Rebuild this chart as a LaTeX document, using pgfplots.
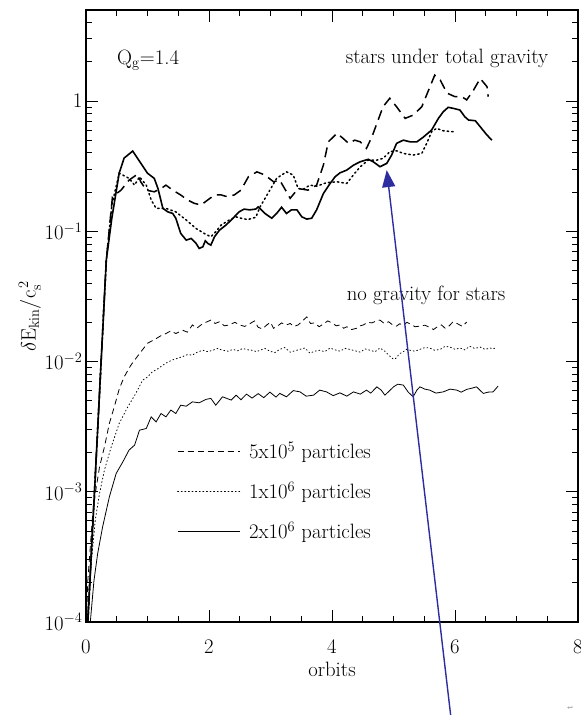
\documentclass[border=0pt]{standalone}
\usepackage{pgfplots}
\pgfplotsset{compat=1.18}
\usetikzlibrary{arrows.meta}
\definecolor{arrowblue}{RGB}{45,45,160}
\newcommand{\fs}{\fontsize{20.74}{24}\selectfont}
\newcommand{\ft}{\fontsize{20.74}{24}\selectfont}
\begin{document}
\begin{tikzpicture}
\begin{axis}[name=ax, scale only axis, width=492pt, height=612pt,
  ymode=log, xmin=0, xmax=8, ymin=1e-4, ymax=5,
  xtick={0,2,4,6,8}, minor x tick num=3,
  ytick={1e-4,1e-3,1e-2,1e-1,1},
  yticklabels={$10^{-4}$,$10^{-3}$,$10^{-2}$,$10^{-1}$,$1$},
  minor ytick={2e-4,3e-4,4e-4,5e-4,6e-4,7e-4,8e-4,9e-4,2e-3,3e-3,4e-3,5e-3,6e-3,7e-3,8e-3,9e-3,2e-2,3e-2,4e-2,5e-2,6e-2,7e-2,8e-2,9e-2,0.2,0.3,0.4,0.5,0.6,0.7,0.8,0.9,2,3,4},
  tick align=inside, xtick pos=both, ytick pos=both,
  major tick length=12pt, minor tick length=6pt,
  every tick/.style={black, line width=0.8pt},
  axis line style={line width=1.2pt},
  tick label style={font=\ft},
  label style={font=\fs},
  xticklabel style={yshift=-15pt},
  xlabel={orbits},
  xlabel style={at={(axis description cs:0.5,-0.078)}, anchor=center},
  ylabel={$\delta\mathrm{E}_{\rm kin}/\mathrm{c}_{\rm s}^{\,2}$},
  ylabel style={at={(axis description cs:-0.114,0.5)}, anchor=center},
  clip mode=individual,
  legend image code/.code={\draw[#1] (0pt,0pt) -- (62pt,0pt);},
  legend cell align=left,
  legend style={at={(axis cs:1.48,2.5e-3)}, anchor=north west, draw=none, fill=none,
    font=\fs, row sep=17.5pt, column sep=7pt, inner sep=0pt, nodes={inner sep=2pt}},
]
% ---- stars under total gravity ----
\addplot[black, line width=1.5pt, dash pattern=on 10pt off 6pt, forget plot] coordinates {
(0.03,1.0e-4)(0.33,0.060)(0.43,0.184)(0.57,0.207)(0.70,0.247)(0.84,0.275)(0.89,0.240)
(0.98,0.207)(1.11,0.201)(1.22,0.213)(1.30,0.226)(1.41,0.207)(1.54,0.190)(1.65,0.174)
(1.76,0.164)(1.87,0.159)(1.98,0.174)(2.09,0.190)(2.20,0.190)(2.30,0.184)(2.41,0.190)
(2.52,0.207)(2.64,0.262)(2.78,0.286)(2.91,0.270)(3.05,0.240)(3.15,0.247)(3.26,0.201)
(3.32,0.179)(3.45,0.213)(3.61,0.207)(3.75,0.226)(3.86,0.322)(3.94,0.486)(4.08,0.565)
(4.18,0.517)(4.27,0.473)(4.37,0.501)(4.46,0.486)(4.56,0.433)(4.65,0.532)(4.73,0.674)
(4.83,0.904)(4.94,1.05)(5.05,0.904)(5.19,0.736)(5.32,0.780)(5.46,0.904)(5.57,1.21)
(5.67,1.58)(5.76,1.45)(5.87,1.15)(6.00,1.08)(6.11,1.08)(6.19,1.02)(6.30,1.21)
(6.41,1.49)(6.52,1.29)(6.54,1.08)
};
\addplot[black, line width=1.5pt, dash pattern=on 1.5pt off 3pt, line cap=round, forget plot] coordinates {
(0.03,1.0e-4)(0.33,0.060)(0.42,0.159)(0.54,0.279)(0.70,0.255)(0.79,0.226)(0.87,0.262)
(0.98,0.226)(1.06,0.174)(1.14,0.150)(1.30,0.150)(1.46,0.141)(1.63,0.122)(1.79,0.105)
(1.92,0.0964)(2.03,0.0908)(2.11,0.0991)(2.20,0.112)(2.33,0.122)(2.44,0.129)(2.52,0.126)
(2.63,0.123)(2.76,0.128)(2.83,0.154)(2.99,0.207)(3.10,0.255)(3.26,0.286)(3.37,0.270)
(3.45,0.213)(3.53,0.210)(3.64,0.226)(3.75,0.222)(3.91,0.236)(4.08,0.240)(4.24,0.233)
(4.37,0.279)(4.46,0.313)(4.59,0.352)(4.73,0.352)(4.83,0.363)(4.94,0.408)(5.05,0.415)
(5.16,0.396)(5.32,0.385)(5.46,0.396)(5.54,0.473)(5.62,0.581)(5.70,0.617)(5.81,0.591)
(5.97,0.581)
};
\addplot[black, line width=1.6pt, forget plot] coordinates {
(0.03,1.0e-4)(0.33,0.060)(0.42,0.126)(0.54,0.280)(0.62,0.365)(0.76,0.413)(0.89,0.334)
(1.00,0.279)(1.11,0.255)(1.17,0.213)(1.25,0.150)(1.33,0.141)(1.41,0.137)(1.46,0.126)
(1.54,0.0964)(1.63,0.0855)(1.71,0.0881)(1.79,0.0807)(1.84,0.0739)(1.90,0.0760)
(1.94,0.0845)(1.98,0.0807)(2.03,0.0783)(2.09,0.0908)(2.17,0.102)(2.28,0.112)(2.39,0.126)
(2.49,0.141)(2.57,0.148)(2.66,0.146)(2.76,0.148)(2.80,0.154)(2.91,0.137)(3.02,0.126)
(3.10,0.137)(3.18,0.153)(3.26,0.137)(3.34,0.146)(3.43,0.146)(3.51,0.129)(3.59,0.124)
(3.67,0.126)(3.75,0.146)(3.86,0.195)(3.97,0.233)(4.05,0.262)(4.13,0.281)(4.24,0.295)
(4.35,0.322)(4.46,0.342)(4.59,0.357)(4.67,0.342)(4.78,0.313)(4.89,0.332)(4.97,0.385)
(5.05,0.473)(5.16,0.501)(5.27,0.486)(5.38,0.486)(5.48,0.526)(5.62,0.599)(5.73,0.736)
(5.81,0.828)(5.89,0.895)(5.97,0.879)(6.08,0.853)(6.16,0.757)(6.22,0.715)(6.33,0.706)
(6.41,0.635)(6.52,0.548)(6.60,0.501)
};
% ---- no gravity for stars ----
\addplot[black, line width=0.8pt, dash pattern=on 6pt off 4pt] coordinates {
(0.01,1.0e-4)(0.03,2.09e-4)(0.07,3.78e-4)(0.11,6.82e-4)(0.16,1.03e-3)(0.22,1.55e-3)
(0.30,2.21e-3)(0.38,3.35e-3)(0.46,4.49e-3)(0.54,6.14e-3)(0.62,7.62e-3)(0.73,9.38e-3)
(0.87,0.0115)(1.00,0.0138)(1.14,0.0150)(1.22,0.0158)(1.30,0.0164)(1.38,0.0172)(1.46,0.0164)
(1.57,0.0174)(1.65,0.0168)(1.73,0.0191)(1.80,0.0180)(1.87,0.0191)(1.95,0.0200)(2.03,0.0208)
(2.10,0.0196)(2.17,0.0202)(2.25,0.0188)(2.33,0.0191)(2.42,0.0200)(2.50,0.0191)(2.58,0.0186)
(2.67,0.0196)(2.74,0.0205)(2.80,0.0183)(2.87,0.0178)(2.94,0.0191)(3.00,0.0200)(3.05,0.0180)
(3.12,0.0188)(3.18,0.0198)(3.25,0.0190)(3.32,0.0196)(3.38,0.0186)(3.45,0.0191)(3.52,0.0205)
(3.59,0.0220)(3.65,0.0196)(3.72,0.0198)(3.79,0.0185)(3.86,0.0194)(3.93,0.0205)(4.00,0.0198)
(4.07,0.0188)(4.13,0.0191)(4.19,0.0180)(4.24,0.0185)(4.32,0.0176)(4.40,0.0180)(4.46,0.0188)
(4.51,0.0191)(4.58,0.0200)(4.65,0.0198)(4.72,0.0205)(4.78,0.0208)(4.85,0.0196)(4.92,0.0202)
(4.98,0.0192)(5.05,0.0187)(5.10,0.0195)(5.16,0.0191)(5.22,0.0200)(5.27,0.0194)(5.35,0.0185)
(5.43,0.0187)(5.51,0.0190)(5.59,0.0183)(5.65,0.0176)(5.70,0.0183)(5.78,0.0191)(5.84,0.0180)
(5.89,0.0185)(5.97,0.0202)(6.05,0.0194)(6.12,0.0186)(6.19,0.0201)
};
\addlegendentry{5x10$^{5}$ particles}
\addplot[black, line width=0.8pt, dash pattern=on 1pt off 2.6pt, line cap=round] coordinates {
(0.02,1.0e-4)(0.05,1.86e-4)(0.10,3.36e-4)(0.15,6.05e-4)(0.22,9.70e-4)(0.30,1.47e-3)
(0.41,2.21e-3)(0.54,3.35e-3)(0.68,4.49e-3)(0.81,5.69e-3)(0.92,7.19e-3)(1.00,7.60e-3)
(1.08,8.34e-3)(1.17,8.80e-3)(1.25,9.38e-3)(1.33,9.90e-3)(1.41,0.0103)(1.49,0.0106)
(1.57,0.0109)(1.65,0.0113)(1.73,0.0112)(1.81,0.0118)(1.90,0.0122)(1.98,0.0119)(2.06,0.0122)
(2.14,0.0126)(2.22,0.0122)(2.31,0.0120)(2.39,0.0124)(2.47,0.0121)(2.55,0.0126)(2.63,0.0123)
(2.71,0.0122)(2.77,0.0119)(2.83,0.0122)(2.91,0.0126)(2.99,0.0120)(3.07,0.0117)(3.15,0.0124)
(3.23,0.0128)(3.32,0.0118)(3.40,0.0121)(3.48,0.0124)(3.56,0.0127)(3.64,0.0116)(3.72,0.0120)
(3.80,0.0122)(3.88,0.0119)(3.97,0.0127)(4.05,0.0123)(4.13,0.0120)(4.21,0.0126)(4.29,0.0124)
(4.37,0.0121)(4.46,0.0118)(4.54,0.0125)(4.62,0.0122)(4.70,0.0119)(4.78,0.0127)(4.86,0.0120)
(4.94,0.0110)(5.00,0.0104)(5.04,0.0106)(5.10,0.0115)(5.15,0.0118)(5.21,0.0124)(5.27,0.0122)
(5.35,0.0120)(5.43,0.0124)(5.51,0.0128)(5.59,0.0127)(5.67,0.0122)(5.76,0.0124)(5.84,0.0131)
(5.92,0.0129)(6.00,0.0124)(6.08,0.0127)(6.16,0.0123)(6.24,0.0131)(6.32,0.0126)(6.41,0.0129)
(6.49,0.0124)(6.57,0.0127)(6.62,0.0125)(6.68,0.0129)
};
\addlegendentry{1x10$^{6}$ particles}
\addplot[black, line width=0.8pt] coordinates {
(0.07,1.0e-4)(0.13,2.09e-4)(0.19,3.36e-4)(0.27,5.37e-4)(0.38,9.14e-4)(0.49,1.38e-3)
(0.60,1.70e-3)(0.70,2.09e-3)(0.79,2.28e-3)(0.87,2.97e-3)(0.98,3.06e-3)(1.06,3.76e-3)
(1.14,3.44e-3)(1.22,3.99e-3)(1.30,3.76e-3)(1.38,4.24e-3)(1.46,3.99e-3)(1.54,4.62e-3)
(1.63,4.54e-3)(1.73,4.90e-3)(1.84,4.82e-3)(1.95,5.12e-3)(2.03,5.21e-3)(2.11,4.62e-3)
(2.22,5.36e-3)(2.36,5.06e-3)(2.44,5.52e-3)(2.52,5.09e-3)(2.61,5.62e-3)(2.70,5.24e-3)
(2.80,5.67e-3)(2.89,5.28e-3)(2.99,5.82e-3)(3.09,5.33e-3)(3.15,5.69e-3)(3.26,5.36e-3)
(3.37,5.98e-3)(3.48,5.85e-3)(3.58,5.42e-3)(3.70,5.52e-3)(3.80,6.03e-3)(3.91,5.85e-3)
(4.02,5.47e-3)(4.13,5.75e-3)(4.24,5.42e-3)(4.35,5.85e-3)(4.46,5.62e-3)(4.56,6.03e-3)
(4.63,5.72e-3)(4.73,6.39e-3)(4.80,6.03e-3)(4.86,5.52e-3)(4.93,5.93e-3)(5.00,6.39e-3)
(5.07,6.70e-3)(5.16,6.59e-3)(5.24,5.82e-3)(5.32,5.36e-3)(5.38,6.03e-3)(5.43,6.39e-3)
(5.51,6.14e-3)(5.59,6.03e-3)(5.69,5.72e-3)(5.81,5.85e-3)(5.92,6.14e-3)(6.03,6.03e-3)
(6.10,5.82e-3)(6.19,6.11e-3)(6.28,6.25e-3)(6.35,6.39e-3)(6.46,5.69e-3)(6.54,5.82e-3)
(6.62,5.85e-3)(6.70,6.47e-3)
};
\addlegendentry{2x10$^{6}$ particles}
% ---- annotations ----
\node[font=\fs] at (axis cs:1.01,2.07) {Q$_{\rm g}$=1.4};
\node[font=\fs] at (axis cs:5.87,2.14) {stars under total gravity};
\node[font=\fs] at (axis cs:5.53,0.0324) {no gravity for stars};
\draw[arrowblue, line width=1.4pt, -{Triangle[length=17pt,width=13pt]}]
  (axis cs:5.93,1.92e-5) -- (axis cs:4.89,0.295);
\node[gray, rotate=90, font=\small] at (axis cs:7.87,2.2e-5) {t};
\end{axis}
\pgfresetboundingbox
\path ([xshift=-86pt,yshift=-93pt]ax.south west) rectangle ([xshift=3pt,yshift=10pt]ax.north east);
\end{tikzpicture}
\end{document}
